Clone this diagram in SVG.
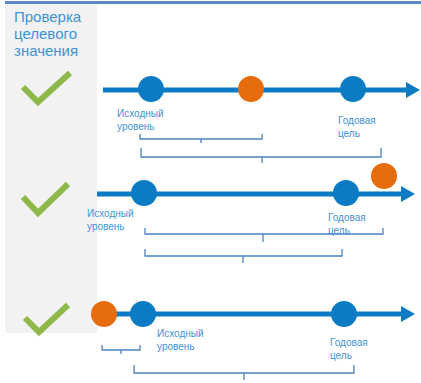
<svg xmlns="http://www.w3.org/2000/svg" width="421" height="383" viewBox="0 0 421 383">
<defs>
<style>
.title{font-family:"Liberation Sans",Arial,sans-serif;font-size:15px;fill:#3d93d4}
.lbl{font-family:"Liberation Sans",Arial,sans-serif;font-size:10px;fill:#3d93d4}
.axis{stroke:#0b7bc4;stroke-width:5;fill:none}
.blue{fill:#0b7bc4}
.orange{fill:#e66c0e}
.check{stroke:#8fb84a;stroke-width:6;fill:none;stroke-linecap:butt;stroke-linejoin:miter}
.brace{stroke:#4a83c5;stroke-width:1.3;fill:none}
</style>
<marker id="ah" markerWidth="14" markerHeight="16" refX="0" refY="8" orient="auto" markerUnits="userSpaceOnUse">
<path d="M0,0 L14,8 L0,16 Z" fill="#0b7bc4"/>
</marker>
</defs>
<rect x="5" y="4" width="92" height="329" fill="#f2f2f2"/>
<line x1="5" y1="2.5" x2="421" y2="2.5" stroke="#5b8ac6" stroke-width="3"/>
<g id="title">
<text class="title" x="14" y="21.7">Проверка</text>
<text class="title" x="14" y="39">целевого</text>
<text class="title" x="14" y="56.3">значения</text>
</g>
<g id="checks">
<polyline class="check" points="23,87 38,102 70,73"/>
<polyline class="check" points="23,197 38,213 68,184"/>
<polyline class="check" points="25,318 39,332 68,305"/>
</g>
<g id="connectors">
<line class="axis" x1="103" y1="90" x2="406" y2="90" marker-end="url(#ah)"/>
<line class="axis" x1="97" y1="194" x2="401" y2="194" marker-end="url(#ah)"/>
<line class="axis" x1="97" y1="314" x2="401" y2="314" marker-end="url(#ah)"/>
</g>
<g id="row1">
<circle class="blue" cx="151" cy="89" r="13"/>
<circle class="orange" cx="251" cy="89" r="13"/>
<circle class="blue" cx="353" cy="89" r="13"/>
<text class="lbl" x="117" y="117">Исходный</text>
<text class="lbl" x="117" y="130">уровень</text>
<text class="lbl" x="338" y="124">Годовая</text>
<text class="lbl" x="338" y="137">цель</text>
<path class="brace" d="M140,134 V139 H262 V134 M201,139 V143"/>
<path class="brace" d="M141,148 V157 H381 V148 M262,157 V163"/>
</g>
<g id="row2">
<circle class="orange" cx="384" cy="176" r="13"/>
<circle class="blue" cx="144" cy="193" r="13"/>
<circle class="blue" cx="346" cy="193" r="13"/>
<text class="lbl" x="87" y="217">Исходный</text>
<text class="lbl" x="87" y="230">уровень</text>
<text class="lbl" x="328" y="221">Годовая</text>
<text class="lbl" x="328" y="234">цель</text>
<path class="brace" d="M145,228 V234 H383 V228 M263,234 V242"/>
<path class="brace" d="M145,249 V256 H342 V249 M243,256 V263"/>
</g>
<g id="row3">
<circle class="orange" cx="104" cy="314" r="13"/>
<circle class="blue" cx="143" cy="314" r="13"/>
<circle class="blue" cx="344" cy="314" r="13"/>
<text class="lbl" x="157" y="337">Исходный</text>
<text class="lbl" x="157" y="350">уровень</text>
<text class="lbl" x="330" y="346">Годовая</text>
<text class="lbl" x="330" y="359">цель</text>
<path class="brace" d="M102,345 V350 H140 V345 M121,350 V354"/>
<path class="brace" d="M134,365 V373 H354 V365 M244,373 V380"/>
</g>
</svg>
